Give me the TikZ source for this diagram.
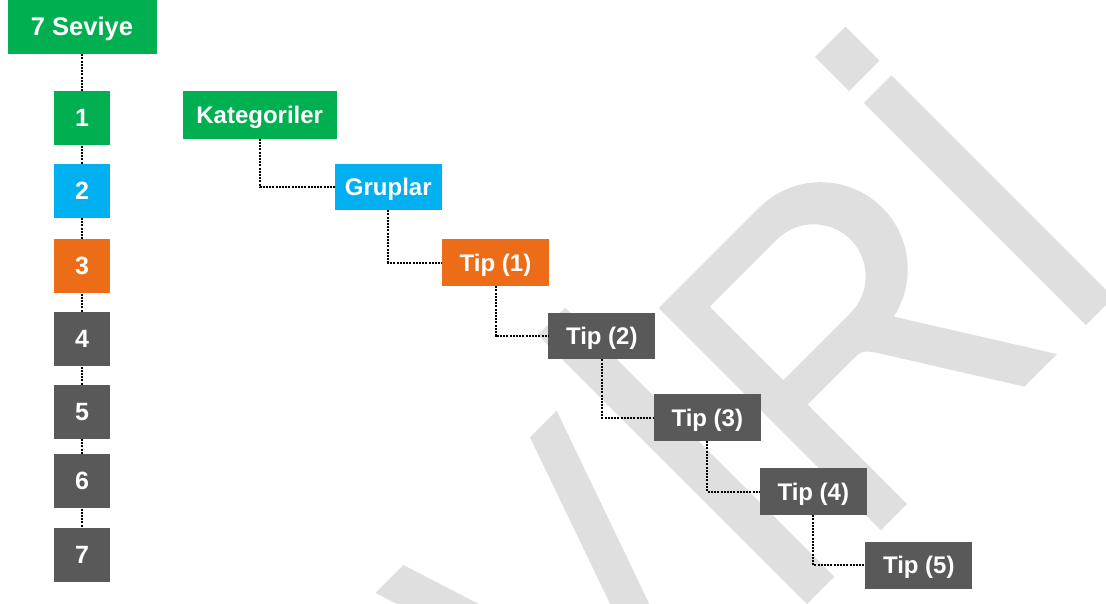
\documentclass[tikz,border=0pt]{standalone}
\usepackage{fontspec}
\setmainfont{Liberation Sans}
\definecolor{cgreen}{RGB}{0,176,80}
\definecolor{cblue}{RGB}{0,176,240}
\definecolor{corange}{RGB}{236,108,24}
\definecolor{cgray}{RGB}{89,89,89}
\definecolor{wmgray}{RGB}{223,223,223}
\begin{document}
\begin{tikzpicture}[x=1pt,y=-1pt,
  box/.style={fill=#1, text=white, font=\bfseries\fontsize{24}{28}\selectfont,
    inner sep=0pt, text height=18pt, text depth=1pt, anchor=center},
  sq/.style={box=#1, minimum width=56pt, minimum height=54pt, font=\bfseries\fontsize{25}{29}\selectfont},
  tipbox/.style={box=#1, minimum width=107pt, minimum height=46.5pt},
  link/.style={draw=black, line width=2pt, dash pattern=on 2pt off 1.2pt},
  wm/.style={fill=wmgray, draw=none}]
\useasboundingbox (0,0) rectangle (1106,603);
\fill[white] (0,0) rectangle (1106,603);
% watermark
\begin{scope}
\clip (0,0) rectangle (1106,603);
\begin{scope}[shift={(705.5pt,-705.5pt)}, x={(0.7071pt,0.7071pt)}, y={(-0.7071pt,0.7071pt)}]
\fill[wm] (-153.7,313) -- (-114.3,313) -- (-28.9,44.3) -- (65.5,313.7) -- (103.2,313.7) -- (-7.2,0) -- (-54.2,0) -- cycle;
\fill[wm] (143.4,0) -- (182.1,0) -- (182.1,380.5) -- (143.4,380.5) -- cycle;
\fill[wm,even odd rule] (248,0) -- (248,314) -- (390,314) arc[start angle=90,end angle=-78,radius=87]
  -- (497,0) -- (451,0) -- (372,126) .. controls (362,140.7) .. (344,140.7) -- (285,140.7) -- (285,0) -- cycle
  (285,175) -- (380,175) arc[start angle=-90,end angle=90,radius=52] -- (285,279) -- cycle;
\fill[wm] (538,0) -- (577,0) -- (577,314) -- (538,314) -- cycle;
\fill[wm] (536,333) -- (579,333) -- (579,381) -- (536,381) -- cycle;
\end{scope}
\end{scope}
% left column
\node[box=cgreen, minimum width=149pt, minimum height=54pt, font=\bfseries\fontsize{25.5}{30}\selectfont] (sev) at (82,27) {7 Seviye};
\node[sq=cgreen] (n1) at (82,118.3) {1};
\node[sq=cblue] (n2) at (82,190.8) {2};
\node[sq=corange] (n3) at (82,266.3) {3};
\node[sq=cgray] (n4) at (82,339.3) {4};
\node[sq=cgray] (n5) at (82,411.7) {5};
\node[sq=cgray] (n6) at (82,481.3) {6};
\node[sq=cgray] (n7) at (82,554.7) {7};
\draw[link] (sev.south) -- (n1.north);
\draw[link] (n1.south) -- (n2.north);
\draw[link] (n2.south) -- (n3.north);
\draw[link] (n3.south) -- (n4.north);
\draw[link] (n4.south) -- (n5.north);
\draw[link] (n5.south) -- (n6.north);
\draw[link] (n6.south) -- (n7.north);
% staircase
\node[box=cgreen, minimum width=154pt, minimum height=47.7pt] (kat) at (259.7,114.8) {Kategoriler};
\node[box=cblue, minimum width=106.7pt, minimum height=46pt] (grp) at (388.3,187) {Gruplar};
\node[tipbox=corange] (t1) at (495.5,262.7) {Tip (1)};
\node[tipbox=cgray] (t2) at (601.8,336) {Tip (2)};
\node[tipbox=cgray] (t3) at (707.3,417.5) {Tip (3)};
\node[tipbox=cgray] (t4) at (813.3,491.7) {Tip (4)};
\node[tipbox=cgray] (t5) at (918.8,565.3) {Tip (5)};
\draw[link] (kat.south) |- (grp.west);
\draw[link] (grp.south) |- (t1.west);
\draw[link] (t1.south) |- (t2.west);
\draw[link] (t2.south) |- (t3.west);
\draw[link] (t3.south) |- (t4.west);
\draw[link] (t4.south) |- (t5.west);
\end{tikzpicture}
\end{document}
